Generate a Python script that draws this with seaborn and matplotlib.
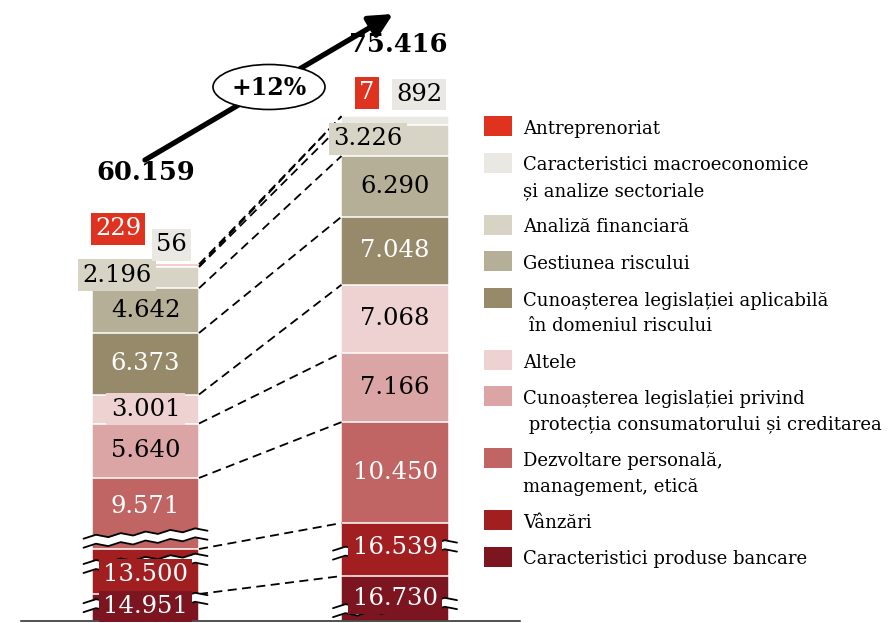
import numpy as np
import pandas as pd
import seaborn as sns
import matplotlib.pyplot as plt
from matplotlib.patches import Ellipse, Rectangle

# ----- data (stack order, bottom -> top) -----
categories = [
    "Caracteristici produse bancare",
    "Vânzări",
    "Dezvoltare personală,\nmanagement, etică",
    "Cunoașterea legislației privind\n protecția consumatorului și creditarea",
    "Altele",
    "Cunoașterea legislației aplicabilă\n în domeniul riscului",
    "Gestiunea riscului",
    "Analiză financiară",
    "Caracteristici macroeconomice\nși analize sectoriale",
    "Antreprenoriat",
]
bars = ["anterior", "curent"]
values_prev = [14951, 13500, 9571, 5640, 3001, 6373, 4642, 2196, 56, 229]
values_curr = [16730, 16539, 10450, 7166, 7068, 7048, 6290, 3226, 892, 7]
growth_label = "+12%"

colors = ["#7c1520", "#a11f21", "#c06464", "#dba5a5", "#eed2d2",
          "#978a6b", "#b6af98", "#d7d3c5", "#e9e8e3", "#e0331f"]
text_colors = ["white", "white", "white", "black", "black",
               "white", "black", "black", "black", "white"]

# ----- layout -----
PX = 103.6          # data units per pixel
W = 0.429           # bar width (category units)
half = W / 2

# broken segments: visible height kept on the page, and where the break sits (fraction)
broken = {("anterior", 0): 2800, ("anterior", 1): 4660, ("anterior", 2): 7360,
          ("curent", 0): 4660, ("curent", 1): 5490}
break_at = {("anterior", 0): 0.7, ("anterior", 1): 0.69, ("anterior", 2): 0.16,
            ("curent", 0): 0.31, ("curent", 1): 0.5}

# label nudges in pixels (x, y up)
label_offset = {
    ("anterior", 0): (0, 1), ("anterior", 1): (0, -3), ("anterior", 2): (0, 7),
    ("anterior", 7): (-28.5, 2.5), ("anterior", 8): (26, 22), ("anterior", 9): (-27.5, 36.5),
    ("curent", 1): (0, 2),
    ("curent", 7): (-27, 1.5), ("curent", 8): (24, 26), ("curent", 9): (-28, 23.5),
}


def fmt(v):
    return f"{v:,}".replace(",", ".")


rows = []
for bar, vals in zip(bars, [values_prev, values_curr]):
    base = 0
    for i, v in enumerate(vals):
        h = broken.get((bar, i), v)
        rows.append(dict(bar=bar, idx=i, value=v, bottom=base, top=base + h))
        base += h
df = pd.DataFrame(rows)

sns.set_theme(style="white")
plt.rcParams['font.family'] = ['DejaVu Serif']
plt.rcParams['text.color'] = 'black'

fig = plt.figure(figsize=(8.9, 6.23), dpi=100)
ax = fig.add_axes([0, 0, 1, 1])

# stacked bars: draw cumulative tops from the top category down
for i in reversed(range(len(categories))):
    sub = df[df.idx == i]
    sns.barplot(data=sub, x="bar", y="top", order=bars, color=colors[i],
                saturation=1, width=W, errorbar=None,
                edgecolor="white", linewidth=1.1, ax=ax)

ax.set_xlim(-145.5 / 249.5, (890 - 145.5) / 249.5)
ax.set_ylim(-2 * PX, 621 * PX)
ax.set_xlabel("")
ax.set_ylabel("")
ax.set_yticks([])
for s in ["left", "right", "top"]:
    ax.spines[s].set_visible(False)
ax.spines["bottom"].set_position(("data", 0))
ax.spines["bottom"].set_bounds(-0.5, 1.5)
ax.spines["bottom"].set_color("#222222")
ax.spines["bottom"].set_linewidth(1.1)
ax.set_xticks([-0.5, 0.5, 1.5])
ax.set_xticklabels([])
ax.tick_params(axis="x", length=4, width=1, color="#222222", direction="out")

# dashed connectors between matching segment tops
for i in range(len(categories)):
    y0 = df[(df.bar == bars[0]) & (df.idx == i)].top.iloc[0]
    y1 = df[(df.bar == bars[1]) & (df.idx == i)].top.iloc[0]
    ax.plot([half, 1 - half], [y0, y1], color="black", lw=1.3,
            ls=(0, (5, 3)), zorder=3)


# break symbols
def draw_break(xc, yc):
    n = 11
    xs = np.linspace(xc - half - 0.034, xc + half + 0.034, n)
    zig = np.where(np.arange(n) % 2 == 0, -1.6 * PX, 1.6 * PX)
    tilt = np.linspace(-4 * PX, 4 * PX, n)
    gap = 9 * PX
    lower = yc - gap / 2 + zig + tilt
    upper = yc + gap / 2 + zig + tilt
    ax.fill_between(xs, lower, upper, color="white", lw=0, zorder=4)
    ax.plot(xs, lower, color="black", lw=1.3, zorder=5)
    ax.plot(xs, upper, color="black", lw=1.3, zorder=5)


for (bar, i), frac in break_at.items():
    r = df[(df.bar == bar) & (df.idx == i)].iloc[0]
    draw_break(bars.index(bar), r.bottom + frac * (r.top - r.bottom))

# value labels
for _, r in df.iterrows():
    i = int(r.idx)
    xc = bars.index(r.bar)
    dx, dy = label_offset.get((r.bar, i), (0, 0))
    ax.annotate(fmt(int(r.value)), xy=(xc, (r.bottom + r.top) / 2),
                xytext=(dx, dy), textcoords="offset pixels",
                ha="center", va="center", fontsize=17.5, color=text_colors[i],
                bbox=dict(boxstyle="square,pad=0.18", fc=colors[i], ec="none"),
                zorder=6)

# ----- overlay in pixel coordinates: totals, arrow, legend -----
ov = fig.add_axes([0, 0, 1, 1])
ov.set_xlim(0, 890)
ov.set_ylim(623, 0)
ov.axis("off")

ov.text(145.5, 173, fmt(sum(values_prev)), fontsize=18.5, fontweight="bold",
        ha="center", va="center")
ov.text(398, 44, fmt(sum(values_curr)), fontsize=18.5, fontweight="bold",
        ha="center", va="center")
ov.annotate("", xy=(393, 14), xytext=(145, 160),
            arrowprops=dict(arrowstyle="-|>,head_length=0.7,head_width=0.35",
                            lw=3.8, color="black", shrinkA=0, shrinkB=0,
                            mutation_scale=20))
ov.add_patch(Ellipse((269, 87), 112, 45, fc="white", ec="black", lw=1.2, zorder=5))
ov.text(269, 88, growth_label, fontsize=17, fontweight="bold",
        ha="center", va="center", zorder=6)

y = 126
for i in reversed(range(len(categories))):
    lines = categories[i].split("\n")
    ov.add_patch(Rectangle((484, y - 10), 28, 20, fc=colors[i], ec="none"))
    for k, line in enumerate(lines):
        ov.text(523, y + 8 + 25.5 * k, line, fontsize=13, ha="left", va="baseline")
    y += 36.5 + 25.5 * (len(lines) - 1)

fig.savefig("out.png", dpi=100)
